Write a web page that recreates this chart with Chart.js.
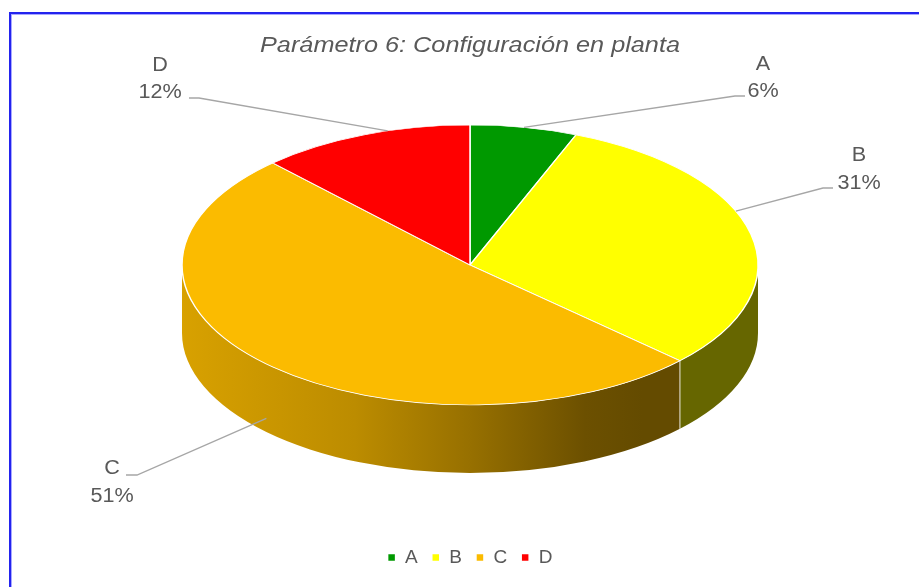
<!DOCTYPE html>
<html><head><meta charset="utf-8">
<script src="https://cdn.jsdelivr.net/npm/chart.js@4/dist/chart.umd.min.js"></script>
<style>html,body{margin:0;padding:0;background:#fff;} #wrap{width:919px;height:587px;position:relative;}</style>
</head><body><div id="wrap"><canvas id="c" width="919" height="587"></canvas></div>
<script>
// ---- data ----
const categories = ['A', 'B', 'C', 'D'];
const values = [6, 31, 51, 12];
const sliceColors = ['#009900', '#FFFF00', '#FBBB00', '#FF0000'];
const titleText = 'Parámetro 6: Configuración en planta';

// ---- layout (not data) ----
const PIE = { cx: 470, cy: 265, rx: 288, ry: 140, depth: 68 };
const labelLayout = [
  { x: 763, y1: 70, y2: 97, lx: 745, ly: 96, elbow: -10, drop: 0, shift: 0 },
  { x: 859, y1: 161, y2: 189, lx: 833, ly: 188, elbow: -10, drop: 0, shift: -10 },
  { x: 112, y1: 474, y2: 502, lx: 126, ly: 475, elbow: 11, drop: 0.8, shift: 0 },
  { x: 160, y1: 71, y2: 98, lx: 189, ly: 98, elbow: 10, drop: 0, shift: 5 }
];
const TEXT_COLOR = '#595959';
const FONT = '"Liberation Sans", Arial, sans-serif';

function rgb(hex) {
  const n = parseInt(hex.slice(1), 16);
  return [(n >> 16) & 255, (n >> 8) & 255, n & 255];
}
function shade(hex, f) {
  const c = rgb(hex).map(v => Math.round(v * f));
  return 'rgb(' + c.join(',') + ')';
}

const pie3d = {
  id: 'pie3d',
  beforeDraw(chart) {
    const ctx = chart.ctx;
    ctx.save();
    ctx.fillStyle = '#2323ee';
    ctx.fillRect(9, 12, 2, 600);
    ctx.fillRect(9, 12, 920, 2);
    ctx.fillStyle = '#a9a9ff';
    ctx.fillRect(11, 14, 1, 600);
    ctx.fillRect(11, 14, 920, 1);
    // title
    ctx.font = 'italic 22px ' + FONT;
    ctx.fillStyle = TEXT_COLOR;
    ctx.textAlign = 'center';
    ctx.textBaseline = 'alphabetic';
    const w = ctx.measureText(titleText).width;
    ctx.translate(470, 52);
    ctx.scale(420 / w, 1);
    ctx.fillText(titleText, 0, 0);
    ctx.restore();
  },
  beforeDatasetsDraw(chart) {
    const ctx = chart.ctx;
    const meta = chart.getDatasetMeta(0);
    const a0 = meta.data[0];
    const r = a0.outerRadius;
    const sy = PIE.ry / PIE.rx;
    const ry = r * sy;
    const { cx, cy, depth } = PIE;
    const boundaries = [];
    meta.data.forEach((arc, i) => {
      const s = arc.startAngle, e = arc.endAngle;
      for (const off of [-2 * Math.PI, 0, 2 * Math.PI]) {
        const a = Math.max(s, off), b = Math.min(e, off + Math.PI);
        if (b <= a) continue;
        const col = sliceColors[i];
        const g = ctx.createLinearGradient(cx - r, 0, cx + r, 0);
        g.addColorStop(0, shade(col, 0.86));
        g.addColorStop(0.3, shade(col, 0.75));
        g.addColorStop(0.5, shade(col, 0.6));
        g.addColorStop(0.7, shade(col, 0.43));
        g.addColorStop(0.8, shade(col, 0.4));
        g.addColorStop(1, shade(col, 0.4));
        ctx.save();
        ctx.beginPath();
        ctx.ellipse(cx, cy, r, ry, 0, a, b, false);
        ctx.lineTo(cx + r * Math.cos(b), cy + ry * Math.sin(b) + depth);
        ctx.ellipse(cx, cy + depth, r, ry, 0, b, a, true);
        ctx.closePath();
        ctx.fillStyle = g;
        ctx.fill();
        ctx.restore();
        if (a > off + 0.001) boundaries.push(a);
      }
    });
    ctx.save();
    ctx.strokeStyle = 'rgba(255,255,255,0.85)';
    ctx.lineWidth = 1;
    boundaries.forEach(a => {
      const x = cx + r * Math.cos(a), y = cy + ry * Math.sin(a);
      ctx.beginPath();
      ctx.moveTo(x, y);
      ctx.lineTo(x, y + depth);
      ctx.stroke();
    });
    ctx.restore();
    // elliptical top face
    ctx.save();
    ctx.translate(cx, cy);
    ctx.scale(1, sy);
    ctx.translate(-a0.x, -a0.y);
  },
  afterDatasetsDraw(chart) {
    const ctx = chart.ctx;
    ctx.restore();
    const meta = chart.getDatasetMeta(0);
    const total = values.reduce((s, v) => s + v, 0);
    const sy = PIE.ry / PIE.rx;
    ctx.save();
    meta.data.forEach((arc, i) => {
      const L = labelLayout[i];
      const r = arc.outerRadius;
      const m = (arc.startAngle + arc.endAngle) / 2 + L.shift * Math.PI / 180;
      const px = PIE.cx + r * Math.cos(m);
      const py = PIE.cy + r * sy * Math.sin(m) + PIE.depth * L.drop;
      ctx.strokeStyle = '#a6a6a6';
      ctx.lineWidth = 1.3;
      ctx.beginPath();
      ctx.moveTo(L.lx, L.ly);
      ctx.lineTo(L.lx + L.elbow, L.ly);
      ctx.lineTo(px, py);
      ctx.stroke();
      ctx.fillStyle = TEXT_COLOR;
      ctx.font = '20px ' + FONT;
      ctx.textAlign = 'center';
      ctx.textBaseline = 'alphabetic';
      const pct = Math.round(values[i] / total * 100) + '%';
      [[categories[i], L.y1], [pct, L.y2]].forEach(([t, y]) => {
        ctx.save();
        ctx.translate(L.x, y);
        ctx.scale(1.08, 1);
        ctx.fillText(t, 0, 0);
        ctx.restore();
      });
    });
    ctx.restore();
  }
};

new Chart(document.getElementById('c'), {
  type: 'pie',
  data: {
    labels: categories,
    datasets: [{
      data: values,
      backgroundColor: sliceColors,
      borderColor: '#ffffff',
      borderWidth: 1.5,
      radius: PIE.rx,
      clip: false
    }]
  },
  options: {
    responsive: false,
    animation: false,
    layout: { padding: { left: 21, right: 0, top: 80, bottom: 10 } },
    plugins: {
      title: { display: false },
      tooltip: { enabled: false },
      legend: {
        position: 'bottom',
        labels: {
          boxWidth: 8, boxHeight: 8, padding: 14,
          color: TEXT_COLOR,
          font: { size: 19, family: FONT }
        }
      }
    }
  },
  plugins: [pie3d]
});
</script>
</body></html>
